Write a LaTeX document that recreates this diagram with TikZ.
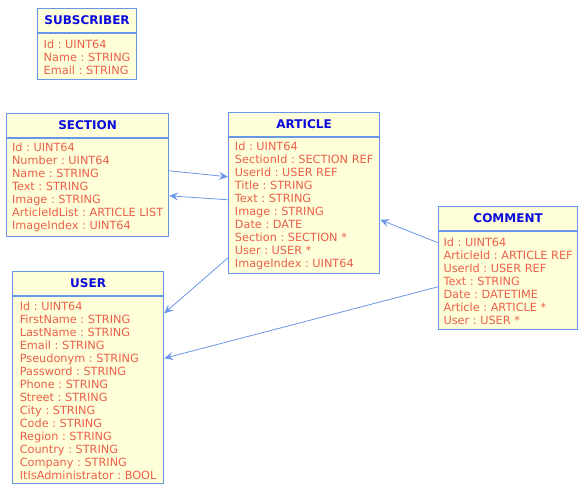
\documentclass[tikz,border=0pt]{standalone}
\usepackage{fontspec}
\setmainfont{DejaVu Sans}
\usetikzlibrary{positioning}
\usetikzlibrary{arrows.meta}
\frenchspacing

\definecolor{umlborder}{HTML}{6A96E8}
\definecolor{umlfill}{HTML}{FEFED8}
\definecolor{umlhead}{HTML}{0B0BDB}
\definecolor{umlattr}{HTML}{EA604C}

\tikzset{
    classhead/.style={draw=umlborder, fill=umlfill, line width=1.2pt, anchor=north west,
        minimum height=24pt, inner sep=0pt, text=umlhead, font=\fontsize{12}{14}\selectfont\bfseries},
    classbody/.style={draw=umlborder, fill=umlfill, line width=1.2pt, below=0pt of #1,
        inner sep=0pt, align=left, text=umlattr, font=\fontsize{11.3}{13}\selectfont},
    assoc/.style={draw=umlborder, line width=0.8pt, -{Stealth[length=9pt,width=8pt,inset=3.5pt]}}
}

\begin{document}
\begin{tikzpicture}[x=1pt, y=-1pt]
    \useasboundingbox (0,0) rectangle (586,492);

    \node[classhead, minimum width=99pt](subhead) at (37,8){SUBSCRIBER};
    \node[classbody=subhead, minimum width=99pt, minimum height=46pt](subbody){
        Id : UINT64\\ Name : STRING\\ Email : STRING};

    \node[classhead, minimum width=162pt](sechead) at (6,113){SECTION};
    \node[classbody=sechead, minimum width=162pt, minimum height=98pt](secbody){
        Id : UINT64\\ Number : UINT64\\ Name : STRING\\ Text : STRING\\ Image : STRING\\
        ArticleIdList : ARTICLE LIST\\ ImageIndex : UINT64};

    \node[classhead, minimum width=151pt](arthead) at (228,112){ARTICLE};
    \node[classbody=arthead, minimum width=151pt, minimum height=136pt](artbody){
        Id : UINT64\\ SectionId : SECTION REF\\ UserId : USER REF\\ Title : STRING\\ Text : STRING\\
        Image : STRING\\ Date : DATE\\ Section : SECTION *\\ User : USER *\\ ImageIndex : UINT64};

    \node[classhead, minimum width=139pt](comhead) at (438,206){COMMENT};
    \node[classbody=comhead, minimum width=139pt, minimum height=98pt](combody){
        Id : UINT64\\ ArticleId : ARTICLE REF\\ UserId : USER REF\\ Text : STRING\\
        Date : DATETIME\\ Article : ARTICLE *\\ User : USER *};

    \node[classhead, minimum width=151pt](userhead) at (12,271){USER};
    \node[classbody=userhead, minimum width=151pt, minimum height=187pt](userbody){
        Id : UINT64\\ FirstName : STRING\\ LastName : STRING\\ Email : STRING\\ Pseudonym : STRING\\
        Password : STRING\\ Phone : STRING\\ Street : STRING\\ City : STRING\\ Code : STRING\\
        Region : STRING\\ Country : STRING\\ Company : STRING\\ ItIsAdministrator : BOOL};

    \draw[assoc] ([yshift=17pt]secbody.east) -- ([yshift=29pt]artbody.west);
    \draw[assoc] ([yshift=6pt]artbody.west) -- ([yshift=-8pt]secbody.east);
    \draw[assoc] ([yshift=-52pt]artbody.west) -- ([yshift=77pt]userbody.east);
    \draw[assoc] ([yshift=38pt]combody.west) -- ([yshift=-14pt]artbody.east);
    \draw[assoc] ([yshift=-6pt]combody.west) -- ([yshift=32pt]userbody.east);
\end{tikzpicture}
\end{document}
